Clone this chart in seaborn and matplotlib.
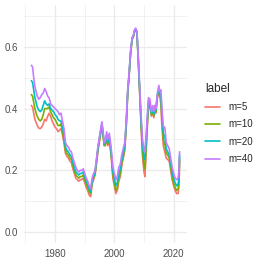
import numpy as np
import pandas as pd
import seaborn as sns
import matplotlib
matplotlib.use("Agg")
import matplotlib.pyplot as plt
from matplotlib.ticker import MultipleLocator

years = [1972.0, 1972.4, 1972.8, 1973.2, 1973.6, 1974.0, 1974.5, 1975.0, 1975.5, 1976.0,
         1976.5, 1977.0, 1977.5, 1978.0, 1978.5, 1979.0, 1979.5, 1980.0, 1980.5, 1981.0,
         1981.5, 1982.0, 1982.5, 1983.0, 1983.5, 1984.0, 1984.5, 1985.0, 1985.5, 1986.0,
         1986.5, 1987.0, 1987.5, 1988.0, 1988.5, 1989.0, 1989.5, 1990.0, 1990.5, 1991.0,
         1991.5, 1992.0, 1992.5, 1993.0, 1993.5, 1994.0, 1994.5, 1995.0, 1995.5, 1995.8,
         1996.2, 1996.6, 1997.0, 1997.4, 1997.8, 1998.3, 1998.7, 1999.1, 1999.5, 2000.0,
         2000.5, 2001.0, 2001.5, 2002.0, 2002.5, 2003.0, 2003.5, 2004.0, 2004.5, 2005.0,
         2005.5, 2006.0, 2006.5, 2006.8, 2007.2, 2007.6, 2008.0, 2008.5, 2009.0, 2009.5,
         2010.0, 2010.3, 2010.7, 2011.0, 2011.5, 2012.0, 2012.5, 2013.0, 2013.3, 2013.7,
         2014.0, 2014.5, 2015.0, 2015.3, 2015.7, 2016.0, 2016.5, 2017.0, 2017.5, 2018.0,
         2018.5, 2019.0, 2019.5, 2020.0, 2020.5, 2021.0, 2021.5, 2021.8, 2022.0]

m40 = [0.54, 0.535, 0.50, 0.47, 0.455, 0.44, 0.43, 0.435, 0.445, 0.45,
       0.465, 0.455, 0.44, 0.435, 0.415, 0.41, 0.405, 0.40, 0.395, 0.39,
       0.38, 0.385, 0.36, 0.335, 0.29, 0.28, 0.275, 0.265, 0.26, 0.24,
       0.225, 0.21, 0.20, 0.195, 0.20, 0.20, 0.205, 0.19, 0.175, 0.165,
       0.15, 0.14, 0.175, 0.19, 0.20, 0.24, 0.28, 0.31, 0.34, 0.357,
       0.325, 0.29, 0.295, 0.325, 0.30, 0.32, 0.29, 0.255, 0.21, 0.19,
       0.17, 0.18, 0.21, 0.22, 0.25, 0.27, 0.29, 0.36, 0.46, 0.52,
       0.59, 0.63, 0.64, 0.655, 0.66, 0.65, 0.58, 0.48, 0.38, 0.30,
       0.265, 0.26, 0.31, 0.36, 0.435, 0.43, 0.39, 0.41, 0.39, 0.41,
       0.40, 0.45, 0.475, 0.455, 0.46, 0.41, 0.34, 0.34, 0.29, 0.28,
       0.27, 0.24, 0.21, 0.19, 0.175, 0.17, 0.175, 0.20, 0.26]

m20 = [0.49, 0.485, 0.46, 0.435, 0.42, 0.405, 0.395, 0.39, 0.395, 0.41,
       0.425, 0.415, 0.41, 0.415, 0.40, 0.395, 0.39, 0.38, 0.375, 0.365,
       0.36, 0.36, 0.34, 0.315, 0.275, 0.265, 0.26, 0.25, 0.245, 0.225,
       0.21, 0.195, 0.19, 0.185, 0.19, 0.19, 0.195, 0.18, 0.165, 0.155,
       0.14, 0.13, 0.165, 0.18, 0.195, 0.235, 0.275, 0.305, 0.335, 0.352,
       0.32, 0.285, 0.29, 0.315, 0.29, 0.31, 0.28, 0.24, 0.195, 0.175,
       0.15, 0.16, 0.19, 0.205, 0.235, 0.255, 0.28, 0.35, 0.455, 0.515,
       0.585, 0.627, 0.638, 0.652, 0.658, 0.648, 0.575, 0.47, 0.365, 0.28,
       0.24, 0.235, 0.29, 0.345, 0.425, 0.42, 0.385, 0.40, 0.38, 0.405,
       0.395, 0.445, 0.465, 0.45, 0.445, 0.39, 0.32, 0.31, 0.27, 0.26,
       0.25, 0.225, 0.195, 0.175, 0.16, 0.15, 0.155, 0.18, 0.25]

m10 = [0.445, 0.44, 0.42, 0.40, 0.385, 0.375, 0.365, 0.36, 0.365, 0.38,
       0.40, 0.40, 0.40, 0.405, 0.39, 0.38, 0.37, 0.365, 0.355, 0.345,
       0.345, 0.35, 0.325, 0.30, 0.265, 0.255, 0.25, 0.24, 0.235, 0.215,
       0.20, 0.185, 0.18, 0.175, 0.18, 0.18, 0.185, 0.17, 0.155, 0.145,
       0.13, 0.125, 0.16, 0.175, 0.19, 0.23, 0.27, 0.30, 0.33, 0.348,
       0.315, 0.28, 0.285, 0.31, 0.285, 0.30, 0.27, 0.235, 0.185, 0.16,
       0.135, 0.145, 0.175, 0.19, 0.225, 0.245, 0.27, 0.345, 0.45, 0.512,
       0.583, 0.625, 0.636, 0.65, 0.656, 0.646, 0.572, 0.465, 0.355, 0.26,
       0.215, 0.205, 0.27, 0.33, 0.415, 0.41, 0.38, 0.395, 0.375, 0.40,
       0.39, 0.44, 0.455, 0.445, 0.43, 0.37, 0.30, 0.285, 0.255, 0.25,
       0.24, 0.21, 0.18, 0.16, 0.145, 0.135, 0.14, 0.165, 0.24]

m5 = [0.41, 0.405, 0.385, 0.365, 0.355, 0.345, 0.337, 0.335, 0.34, 0.35,
      0.365, 0.36, 0.375, 0.385, 0.375, 0.36, 0.35, 0.34, 0.335, 0.325,
      0.33, 0.335, 0.315, 0.29, 0.255, 0.245, 0.24, 0.23, 0.225, 0.205,
      0.19, 0.175, 0.17, 0.165, 0.17, 0.17, 0.175, 0.16, 0.145, 0.135,
      0.12, 0.115, 0.155, 0.17, 0.185, 0.225, 0.265, 0.295, 0.325, 0.345,
      0.31, 0.28, 0.28, 0.305, 0.28, 0.295, 0.265, 0.225, 0.175, 0.15,
      0.125, 0.135, 0.165, 0.18, 0.215, 0.24, 0.265, 0.34, 0.445, 0.51,
      0.58, 0.623, 0.635, 0.648, 0.655, 0.645, 0.57, 0.46, 0.345, 0.245,
      0.195, 0.18, 0.255, 0.32, 0.41, 0.405, 0.375, 0.39, 0.37, 0.395,
      0.385, 0.435, 0.45, 0.44, 0.415, 0.35, 0.28, 0.26, 0.24, 0.235,
      0.23, 0.20, 0.17, 0.15, 0.135, 0.125, 0.125, 0.15, 0.23]

labels = ["m=5", "m=10", "m=20", "m=40"]
colors = ["#F8766D", "#7CAE00", "#00BFC4", "#C77CFF"]

df = pd.concat([
    pd.DataFrame({"year": years, "value": vals, "label": lab})
    for lab, vals in zip(labels, [m5, m10, m20, m40])
], ignore_index=True)

sns.set_theme(style="white")
plt.rcParams["font.family"] = ["Liberation Sans", "DejaVu Sans"]

fig = plt.figure(figsize=(2.63, 2.63), dpi=100)
ax = fig.add_axes([0.091, 0.076, 0.62, 0.905])

sns.lineplot(data=df, x="year", y="value", hue="label", hue_order=labels,
             palette=colors, linewidth=1.2, ax=ax, legend=True)

ax.set_xlim(1969.5, 2024.5)
ax.set_ylim(-0.035, 0.735)
ax.xaxis.set_minor_locator(MultipleLocator(10))
ax.yaxis.set_minor_locator(MultipleLocator(0.1))
ax.set_xticks([1980, 2000, 2020])
ax.set_xticklabels(["1980", "2000", "2020"])
ax.set_yticks([0.0, 0.2, 0.4, 0.6])
ax.set_yticklabels(["0.0", "0.2", "0.4", "0.6"])
ax.grid(True, which="major", color="#EBEBEB", linewidth=1.0)
ax.grid(True, which="minor", color="#EBEBEB", linewidth=0.5)
ax.set_axisbelow(True)
for s in ax.spines.values():
    s.set_visible(False)
ax.tick_params(axis="both", which="both", length=0, labelsize=7, colors="#4D4D4D", pad=4)
ax.set_xlabel("")
ax.set_ylabel("")

handles, labs = ax.get_legend_handles_labels()
ax.legend(handles, labs, title="label", loc="center left",
          bbox_to_anchor=(201 / 263, 0.531), bbox_transform=fig.transFigure,
          borderaxespad=0, frameon=False, fontsize=7,
          title_fontsize=8.5, handlelength=1.55, handletextpad=0.85,
          labelspacing=0.75, alignment="left")

fig.savefig("out.png", dpi=100)
